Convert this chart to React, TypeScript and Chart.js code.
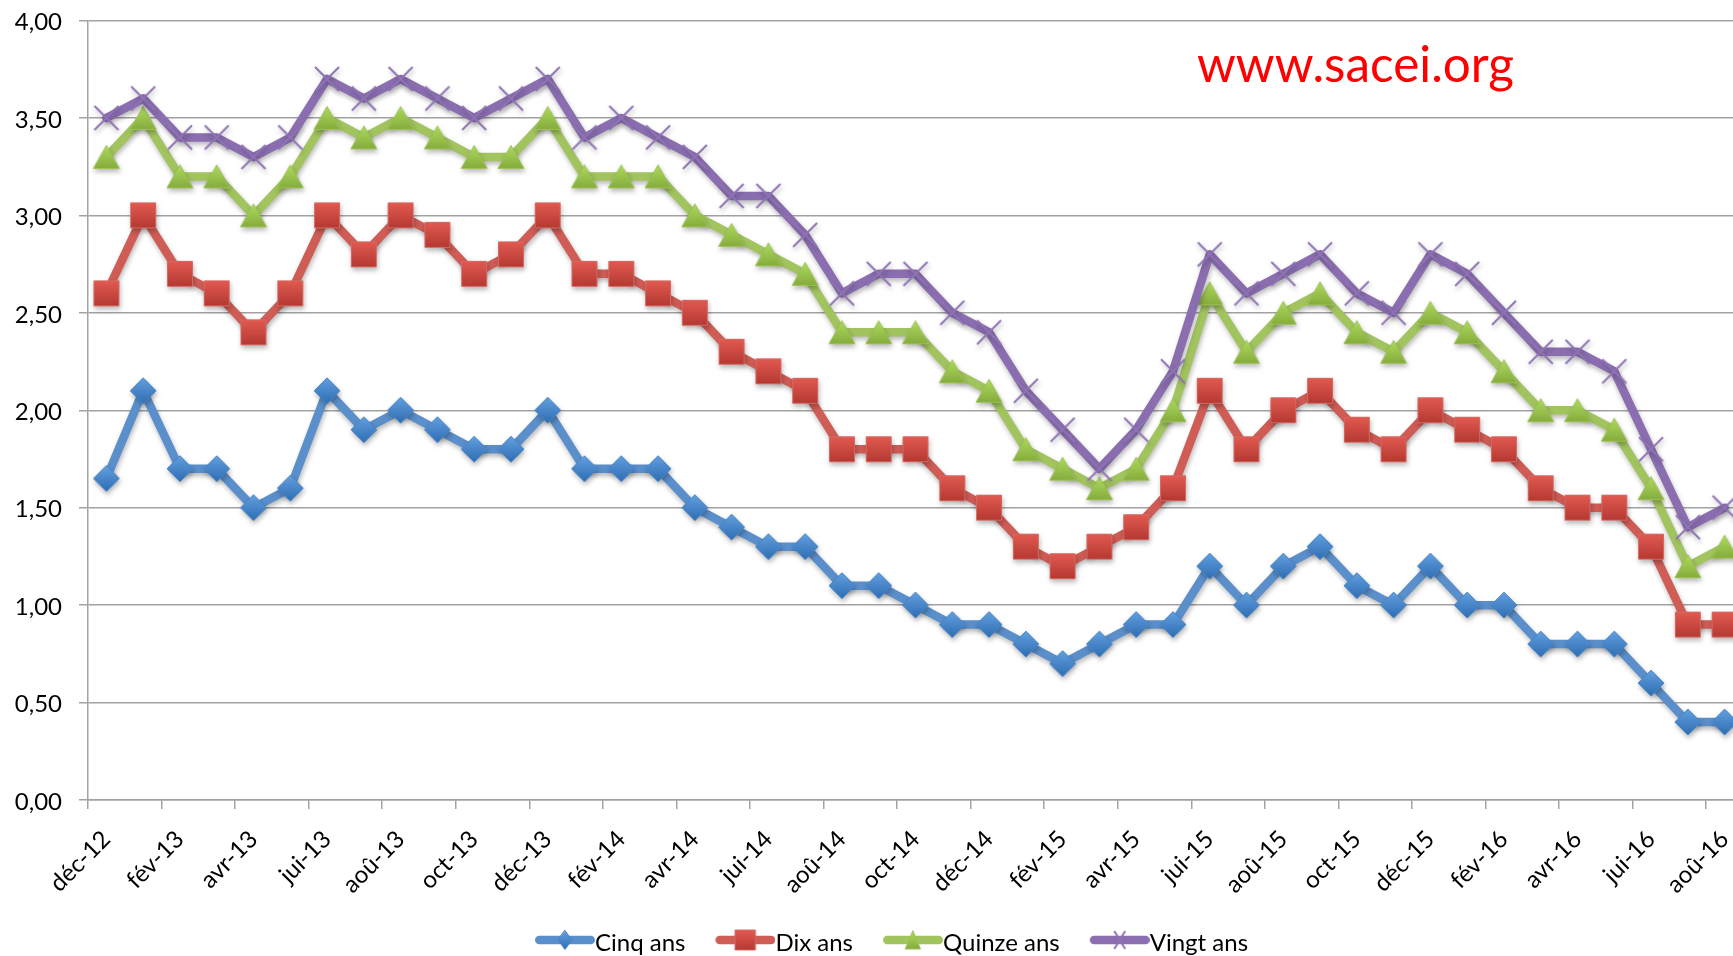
import React, { useEffect, useRef } from 'react';
import { Chart, registerables } from 'chart.js';

Chart.register(...registerables);

// ---- Data ----
const months = [
  'déc-12', 'jan-13', 'fév-13', 'mar-13', 'avr-13', 'mai-13', 'jui-13', 'jui-13', 'aoû-13', 'sep-13', 'oct-13', 'nov-13',
  'déc-13', 'jan-14', 'fév-14', 'mar-14', 'avr-14', 'mai-14', 'jui-14', 'jui-14', 'aoû-14', 'sep-14', 'oct-14', 'nov-14',
  'déc-14', 'jan-15', 'fév-15', 'mar-15', 'avr-15', 'mai-15', 'jui-15', 'jui-15', 'aoû-15', 'sep-15', 'oct-15', 'nov-15',
  'déc-15', 'jan-16', 'fév-16', 'mar-16', 'avr-16', 'mai-16', 'jui-16', 'jui-16', 'aoû-16',
];

const cinqAns = [
  1.65, 2.1, 1.7, 1.7, 1.5, 1.6, 2.1, 1.9, 2.0, 1.9,
  1.8, 1.8, 2.0, 1.7, 1.7, 1.7, 1.5, 1.4, 1.3, 1.3,
  1.1, 1.1, 1.0, 0.9, 0.9, 0.8, 0.7, 0.8, 0.9, 0.9,
  1.2, 1.0, 1.2, 1.3, 1.1, 1.0, 1.2, 1.0, 1.0, 0.8,
  0.8, 0.8, 0.6, 0.4, 0.4,
];
const dixAns = [
  2.6, 3.0, 2.7, 2.6, 2.4, 2.6, 3.0, 2.8, 3.0, 2.9,
  2.7, 2.8, 3.0, 2.7, 2.7, 2.6, 2.5, 2.3, 2.2, 2.1,
  1.8, 1.8, 1.8, 1.6, 1.5, 1.3, 1.2, 1.3, 1.4, 1.6,
  2.1, 1.8, 2.0, 2.1, 1.9, 1.8, 2.0, 1.9, 1.8, 1.6,
  1.5, 1.5, 1.3, 0.9, 0.9,
];
const quinzeAns = [
  3.3, 3.5, 3.2, 3.2, 3.0, 3.2, 3.5, 3.4, 3.5, 3.4,
  3.3, 3.3, 3.5, 3.2, 3.2, 3.2, 3.0, 2.9, 2.8, 2.7,
  2.4, 2.4, 2.4, 2.2, 2.1, 1.8, 1.7, 1.6, 1.7, 2.0,
  2.6, 2.3, 2.5, 2.6, 2.4, 2.3, 2.5, 2.4, 2.2, 2.0,
  2.0, 1.9, 1.6, 1.2, 1.3,
];
const vingtAns = [
  3.5, 3.6, 3.4, 3.4, 3.3, 3.4, 3.7, 3.6, 3.7, 3.6,
  3.5, 3.6, 3.7, 3.4, 3.5, 3.4, 3.3, 3.1, 3.1, 2.9,
  2.6, 2.7, 2.7, 2.5, 2.4, 2.1, 1.9, 1.7, 1.9, 2.2,
  2.8, 2.6, 2.7, 2.8, 2.6, 2.5, 2.8, 2.7, 2.5, 2.3,
  2.3, 2.2, 1.8, 1.4, 1.5,
];

const seriesNames = ['Cinq ans', 'Dix ans', 'Quinze ans', 'Vingt ans'];
const yTicks = [0, 0.5, 1, 1.5, 2, 2.5, 3, 3.5, 4];
const siteText = 'www.sacei.org';

// ---- Styles ----
const FONT = 'Lato';
const GRID = '#a2a2a2';
const LINE_W = 8.5;

type Kind = 'diamond' | 'square' | 'triangle' | 'cross';
const styles: { line: string; kind: Kind; top: string; bottom: string; edge: string }[] = [
  { line: '#5a8fcb', kind: 'diamond', top: '#62a0df', bottom: '#2f6db3', edge: '#4a86c8' },
  { line: '#cf5c55', kind: 'square', top: '#e25a51', bottom: '#b43932', edge: '#d56a63' },
  { line: '#a2c45f', kind: 'triangle', top: '#addb5e', bottom: '#86ac3d', edge: '#9cc255' },
  { line: '#8a6eb0', kind: 'cross', top: '#8f73b5', bottom: '#8f73b5', edge: '#8f73b5' },
];

function drawShape(ctx: CanvasRenderingContext2D, kind: Kind, cx: number, cy: number, w: number, h: number, s: typeof styles[0]) {
  if (kind === 'cross') {
    ctx.strokeStyle = s.edge;
    ctx.lineWidth = 2;
    ctx.lineCap = 'butt';
    ctx.beginPath();
    ctx.moveTo(cx - w / 2, cy - h / 2);
    ctx.lineTo(cx + w / 2, cy + h / 2);
    ctx.moveTo(cx + w / 2, cy - h / 2);
    ctx.lineTo(cx - w / 2, cy + h / 2);
    ctx.stroke();
    return;
  }
  const g = ctx.createLinearGradient(0, cy - h / 2, 0, cy + h / 2);
  g.addColorStop(0, s.top);
  g.addColorStop(1, s.bottom);
  ctx.beginPath();
  if (kind === 'diamond') {
    ctx.moveTo(cx, cy - h / 2);
    ctx.lineTo(cx + w / 2, cy);
    ctx.lineTo(cx, cy + h / 2);
    ctx.lineTo(cx - w / 2, cy);
  } else if (kind === 'square') {
    ctx.rect(cx - w / 2, cy - h / 2, w, h);
  } else {
    ctx.moveTo(cx, cy - h / 2);
    ctx.lineTo(cx + w / 2, cy + h / 2);
    ctx.lineTo(cx - w / 2, cy + h / 2);
  }
  ctx.closePath();
  ctx.fillStyle = g;
  ctx.fill();
  ctx.strokeStyle = s.edge;
  ctx.lineWidth = 1;
  ctx.stroke();
}

const markerSize: Record<Kind, [number, number]> = {
  diamond: [26, 26],
  square: [25, 25],
  triangle: [26, 23],
  cross: [24, 24],
};
const legendMarkerSize: Record<Kind, [number, number]> = {
  diamond: [14, 19],
  square: [20, 20],
  triangle: [15, 18],
  cross: [11, 18],
};

function makeMarker(s: typeof styles[0]) {
  const c = document.createElement('canvas');
  c.width = 30;
  c.height = 30;
  const ctx = c.getContext('2d')!;
  const [w, h] = markerSize[s.kind];
  drawShape(ctx, s.kind, 15, 15, w, h, s);
  return c;
}

const LEGEND_FONT = 24;
const LEGEND_BOX = 48;
function makeLegendIcon(s: typeof styles[0]) {
  const c = document.createElement('canvas');
  c.width = LEGEND_BOX + LEGEND_FONT;
  c.height = 30;
  const ctx = c.getContext('2d')!;
  const x0 = LEGEND_FONT / 2;
  const ly = 12;
  ctx.strokeStyle = s.line;
  ctx.lineWidth = LINE_W;
  ctx.lineCap = 'round';
  ctx.beginPath();
  ctx.moveTo(x0 + LINE_W / 2, ly);
  ctx.lineTo(c.width - LINE_W / 2, ly);
  ctx.stroke();
  const [w, h] = legendMarkerSize[s.kind];
  drawShape(ctx, s.kind, (x0 + c.width) / 2, ly, w, h, s);
  return c;
}

const fmt = (v: number) => v.toFixed(2).replace('.', ',');

export default function App() {
  const ref = useRef<HTMLCanvasElement>(null);

  useEffect(() => {
    const canvas = ref.current;
    if (!canvas) return;
    const values = [cinqAns, dixAns, quinzeAns, vingtAns];
    const markers = styles.map(makeMarker);
    const icons = styles.map(makeLegendIcon);

    const shadowPlugin = {
      id: 'shadow',
      beforeDatasetDraw(chart: any) {
        const ctx = chart.ctx;
        ctx.save();
        ctx.shadowColor = 'rgba(0,0,0,0.28)';
        ctx.shadowBlur = 5;
        ctx.shadowOffsetX = 1;
        ctx.shadowOffsetY = 3;
      },
      afterDatasetDraw(chart: any) {
        chart.ctx.restore();
      },
    };

    // the original chart's legend is centred on the full (uncropped) chart width
    const legendShift = {
      id: 'legendShift',
      afterLayout(chart: any) {
        const l = chart.legend;
        if (l) {
          l.left += 20;
          l.right += 20;
        }
      },
    };

    const sitePlugin = {
      id: 'site',
      afterDraw(chart: any) {
        const ctx = chart.ctx;
        ctx.save();
        ctx.font = `50px ${FONT}`;
        const m = ctx.measureText(siteText).width;
        const size = (50 * 317) / m;
        ctx.font = `${size}px ${FONT}`;
        ctx.fillStyle = '#ff0000';
        ctx.textBaseline = 'alphabetic';
        ctx.textAlign = 'left';
        ctx.fillText(siteText, 1197, 82);
        ctx.restore();
      },
    };

    const chart = new Chart(canvas, {
      type: 'line',
      data: {
        labels: months,
        datasets: seriesNames.map((name, i) => ({
          label: name,
          data: values[i],
          borderColor: styles[i].line,
          backgroundColor: styles[i].line,
          borderWidth: LINE_W,
          borderJoinStyle: 'round',
          borderCapStyle: 'round',
          tension: 0,
          pointStyle: markers[i],
          pointRadius: 12,
          pointHoverRadius: 12,
          clip: false,
          order: 3 - i,
        })) as any,
      },
      options: {
        responsive: false,
        animation: false,
        devicePixelRatio: 1,
        events: [],
        layout: { padding: { top: 20, right: 40, left: 0, bottom: 0 } },
        plugins: {
          tooltip: { enabled: false },
          legend: {
            position: 'bottom',
            labels: {
              usePointStyle: true,
              pointStyleWidth: LEGEND_BOX,
              padding: 30,
              color: '#000',
              font: { family: FONT, size: LEGEND_FONT },
              generateLabels: () =>
                seriesNames.map((name, i) => ({
                  text: name,
                  pointStyle: icons[i],
                  fillStyle: styles[i].line,
                  strokeStyle: styles[i].line,
                  lineWidth: 0,
                  hidden: false,
                  datasetIndex: i,
                })) as any,
            },
          },
        },
        scales: {
          x: {
            type: 'category',
            offset: true,
            grid: {
              offset: true,
              drawOnChartArea: false,
              drawTicks: true,
              tickLength: 9,
              lineWidth: 1.5,
              color: GRID,
              tickColor: (c: any) => (c.index % 2 === 0 ? GRID : 'rgba(0,0,0,0)'),
            },
            border: { display: true, color: GRID, width: 1.5 },
            ticks: {
              autoSkip: false,
              minRotation: 45,
              maxRotation: 45,
              padding: 16,
              color: '#000',
              font: { family: FONT, size: 24 },
              callback: (_v: any, i: number) => (i % 2 === 0 ? months[i] : ''),
            },
            afterFit: (s: any) => {
              s.height = 101;
              s.paddingTop = 0;
              s.paddingBottom = 0;
            },
          },
          y: {
            min: 0,
            max: 4,
            afterBuildTicks: (s: any) => {
              s.ticks = yTicks.map((v) => ({ value: v }));
            },
            grid: { color: GRID, lineWidth: 1.5, tickLength: 9, tickColor: GRID },
            border: { display: true, color: GRID, width: 1.5 },
            ticks: {
              padding: 17,
              color: '#000',
              font: { family: FONT, size: 24 },
              labelOffset: 2,
              callback: (v: any) => fmt(Number(v)),
            },
            afterFit: (s: any) => {
              s.width = 88;
              s.paddingTop = 0;
              s.paddingBottom = 0;
            },
          },
        },
      } as any,
      plugins: [shadowPlugin, legendShift, sitePlugin],
    });

    return () => chart.destroy();
  }, []);

  return (
    <div
      style={{
        position: 'fixed',
        left: 0,
        top: 0,
        width: 1733,
        height: 956,
        overflow: 'hidden',
        background: '#ffffff',
      }}
    >
      <canvas ref={ref} width={1783} height={965} style={{ display: 'block' }} />
    </div>
  );
}
